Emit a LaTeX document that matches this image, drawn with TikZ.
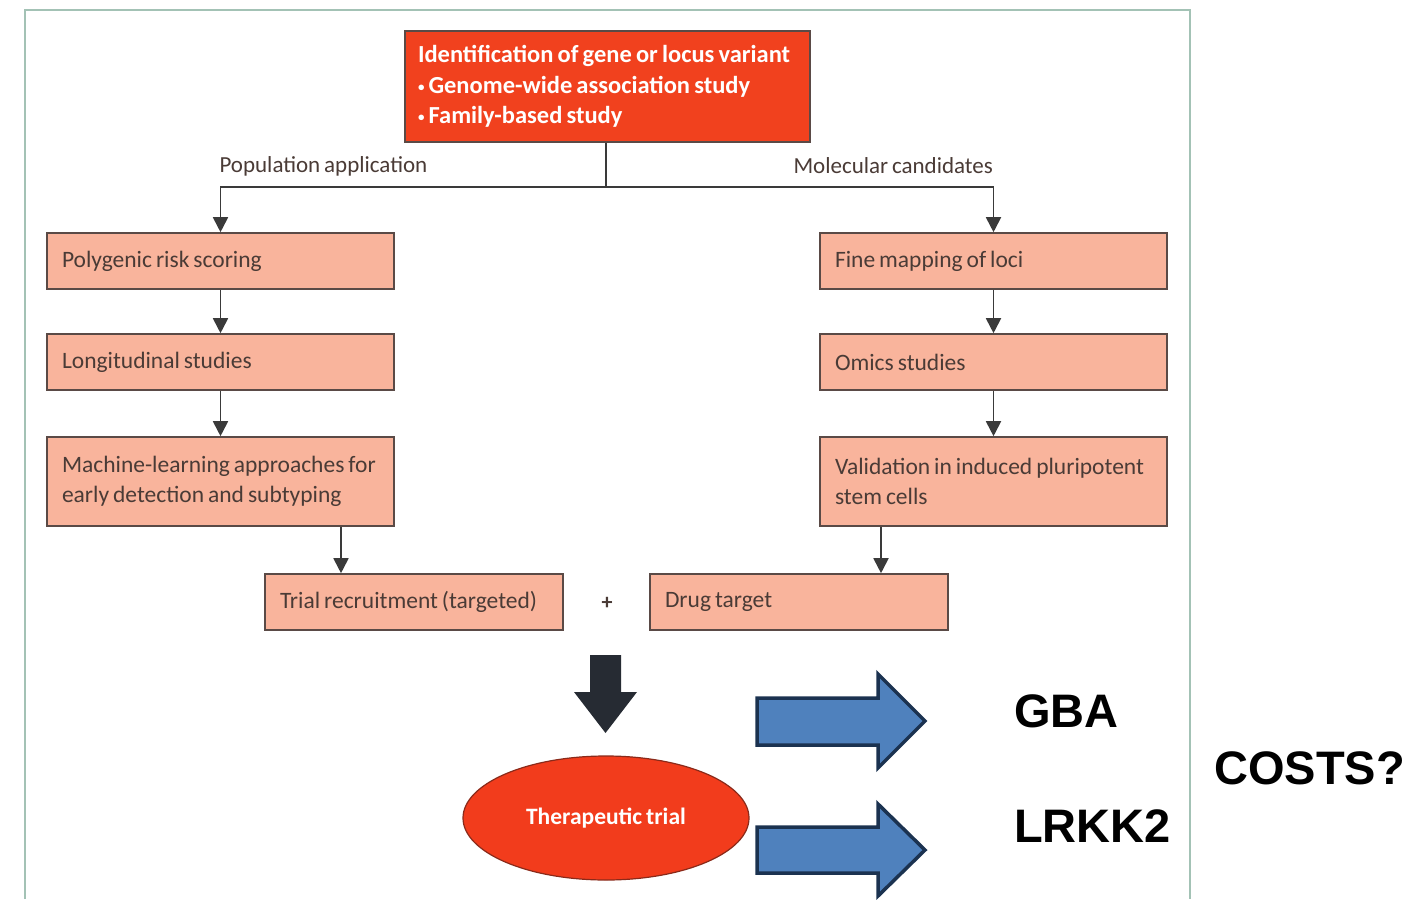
\documentclass[tikz,border=0pt]{standalone}
\usepackage{fontspec}
\setmainfont{Carlito}[WordSpace=0.75]
\newfontfamily\arialfont{Liberation Sans}
\usetikzlibrary{arrows.meta,shapes.geometric}
\definecolor{framec}{HTML}{A3C2B5}
\definecolor{redbox}{HTML}{F1411E}
\definecolor{salmon}{HTML}{F9B49C}
\definecolor{boxedge}{HTML}{5A4A46}
\definecolor{boxtext}{HTML}{4A3B36}
\definecolor{linec}{HTML}{3A3A3A}
\definecolor{bigarr}{HTML}{262B33}
\definecolor{bluefill}{HTML}{4F81BD}
\definecolor{blueedge}{HTML}{1B3250}
\definecolor{ellfill}{HTML}{F23C1C}
\definecolor{elledge}{HTML}{8A2A1A}
\newcommand{\smallbul}{\raisebox{2pt}{\fontsize{13}{13}\selectfont\textbullet}\,}
\newcommand{\tightsp}{\spaceskip=0pt\relax\xspaceskip=0pt\relax}
\tikzset{
  tightspace/.style={execute at begin node=\tightsp},
  flowbox/.style={draw=boxedge, line width=1.6pt, fill=salmon, text=boxtext,
    minimum width=347pt, text width=317pt, inner xsep=15pt, align=left, tightspace,
    font=\fontsize{23.5}{30.5}\selectfont},
  conn/.style={draw=linec, line width=1.8pt, -{Triangle[length=15pt,width=15pt]}},
  plain/.style={draw=linec, line width=1.8pt},
  lbl/.style={text=boxtext, font=\fontsize{23}{26}\selectfont},
  bigtext/.style={font=\arialfont\bfseries\fontsize{47}{50}\selectfont, text=black, anchor=west, inner sep=0pt},
  bluearrow/.style={fill=bluefill, draw=blueedge, line width=3.5pt, line join=miter}
}
\begin{document}
\begin{tikzpicture}[x=1pt,y=-1pt]
\useasboundingbox (0,0) rectangle (1410,899);
% frame
\draw[framec, line width=2pt] (25,899) -- (25,10) -- (1190,10) -- (1190,899);
% top box
\node[draw=boxedge, line width=1.6pt, fill=redbox, text=white, minimum width=405pt, minimum height=111pt,
  text width=379pt, inner xsep=13pt, align=left, tightspace, font=\bfseries\fontsize{24.5}{30.5}\selectfont]
  (top) at (607.5,86.5) {Identification of gene or locus variant\\\smallbul Genome-wide association study\\\smallbul Family-based study};
% left column
\node[flowbox, minimum height=56pt] (b1) at (220.5,261) {Polygenic risk scoring};
\node[flowbox, minimum height=56pt] (b2) at (220.5,362) {Longitudinal studies};
\node[flowbox, minimum height=89pt] (b3) at (220.5,481.5) {Machine-learning approaches for\\early detection and subtyping};
% right column
\node[flowbox, minimum height=56pt] (r1) at (993.5,261) {Fine mapping of loci};
\node[flowbox, minimum height=56pt] (r2) at (993.5,362) {Omics studies};
\node[flowbox, minimum height=89pt] (r3) at (993.5,481.5) {Validation in induced pluripotent\\stem cells};
% bottom row
\node[flowbox, minimum width=298pt, text width=268pt, minimum height=56pt] (trial) at (414,602) {Trial recruitment (targeted)};
\node[flowbox, minimum width=298pt, text width=268pt, minimum height=56pt] (drug) at (799,602) {Drug target};
\node[text=boxtext, font=\bfseries\fontsize{22}{26}\selectfont] (plus) at (607,603) {+};
% labels
\node[lbl, anchor=west] (popl) at (216,166) {Population application};
\node[lbl, anchor=west] (moll) at (790,166) {Molecular candidates};
% connectors
\coordinate (j) at (606,187);
\draw[plain] (top.south -| j) -- (j);
\draw[conn] (j) -| (b1.north);
\draw[conn] (j) -| (r1.north);
\draw[conn] (b1) -- (b2);
\draw[conn] (b2) -- (b3);
\draw[conn] (r1) -- (r2);
\draw[conn] (r2) -- (r3);
\draw[conn] (341,0 |- b3.south) -- (341,0 |- trial.north);
\draw[conn] (881,0 |- r3.south) -- (881,0 |- drug.north);
% big black arrow
\fill[bigarr] (590,655) -- (621,655) -- (621,692) -- (637,692) -- (605.5,733) -- (574,692) -- (590,692) -- cycle;
% ellipse
\node[ellipse, fill=ellfill, draw=elledge, line width=1.2pt, minimum width=286pt, minimum height=124pt,
  text=white, font=\bfseries\fontsize{23.5}{26}\selectfont] (ther) at (606,818) {Therapeutic trial};
% blue arrows
\draw[bluearrow] (757,698) -- (878,698) -- (878,674) -- (925,721) -- (878,768) -- (878,745) -- (757,745) -- cycle;
\draw[bluearrow] (757,827) -- (878,827) -- (878,804) -- (925,850) -- (878,896) -- (878,873) -- (757,873) -- cycle;
% big text
\node[bigtext] (gba) at (1014,711) {GBA};
\node[bigtext] (lrkk) at (1014,826) {LRKK2};
\node[bigtext] (costs) at (1214,768) {COSTS?};
\end{tikzpicture}
\end{document}
